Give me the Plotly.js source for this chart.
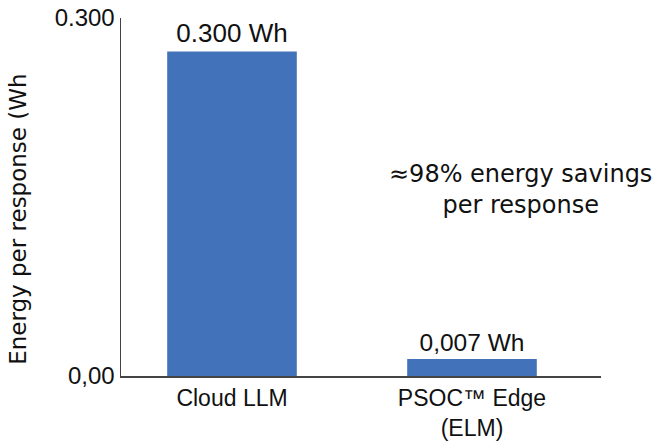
<!DOCTYPE html>
<html>
<head>
<meta charset="utf-8">
<script src="https://cdn.plot.ly/plotly-3.0.1.min.js"></script>
<style>
  html, body { margin: 0; padding: 0; background: #fff; }
  #graph { width: 661px; height: 446px; }
</style>
</head>
<body>
<div id="graph"></div>
<script>
// categories and values
let categories = ['Cloud LLM', 'PSOC™ Edge<br>(ELM)'];
let energyDrawn = [0.272, 0.0143];          // bar heights as drawn against the 0..0.300 axis
let energyLabels = ['0.300 Wh', '0,007 Wh']; // labels printed on the bars
let yTickVals = [0, 0.3];
let yTickText = ['0,00', '0.300'];
let savingsNote = '≈98% energy savings<br>per response';
let yTitle = 'Energy per response (Wh';

var font = 'Liberation Sans, Arial, sans-serif';
var wide = 'DejaVu Sans, sans-serif';

var trace = {
	x : [0, 1],
	y : energyDrawn,
	type : 'bar',
	text : energyLabels,
	textposition : 'outside',
	textfont : {family : font, size : [26, 24.5], color : '#111'},
	cliponaxis : false,
	marker : {color : '#4273BA'},
	hoverinfo : 'none'
};

var data = [trace];

var layout = {
	width : 661,
	height : 446,
	margin : {l : 121, r : 60, t : 18, b : 70},
	paper_bgcolor : '#fff',
	plot_bgcolor : '#fff',
	showlegend : false,
	bargap : 0.46,
	font : {family : font, color : '#111'},
	xaxis : {
		range : [-0.4625, 1.5375],
		tickvals : [0, 1],
		ticktext : categories,
		tickfont : {size : 23, color : '#111'},
		ticklabelstandoff : 1,
		showgrid : false,
		zeroline : false,
		showline : true,
		linecolor : '#444',
		linewidth : 1.5,
		ticks : '',
		fixedrange : true
	},
	yaxis : {
		range : [0, 0.3],
		tickvals : yTickVals,
		ticktext : yTickText,
		tickfont : {size : 24, color : '#111'},
		showgrid : false,
		zeroline : false,
		showline : true,
		linecolor : '#444',
		linewidth : 1.5,
		ticks : 'inside',
		ticklen : 6,
		tickcolor : '#444',
		tickwidth : 1.5,
		fixedrange : true
	},
	annotations : [
		{
			text : yTitle,
			xref : 'paper', yref : 'paper',
			x : -0.215, y : 0.4385,
			xanchor : 'center', yanchor : 'middle',
			textangle : -90,
			showarrow : false,
			font : {family : wide, size : 23, color : '#111'}
		},
		{
			text : savingsNote,
			xref : 'paper', yref : 'paper',
			x : 0.833, y : 0.522,
			xanchor : 'center', yanchor : 'middle',
			showarrow : false,
			font : {family : wide, size : 24, color : '#111'}
		}
	]
};

Plotly.newPlot('graph', data, layout, {displayModeBar : false, staticPlot : true});
</script>
</body>
</html>
